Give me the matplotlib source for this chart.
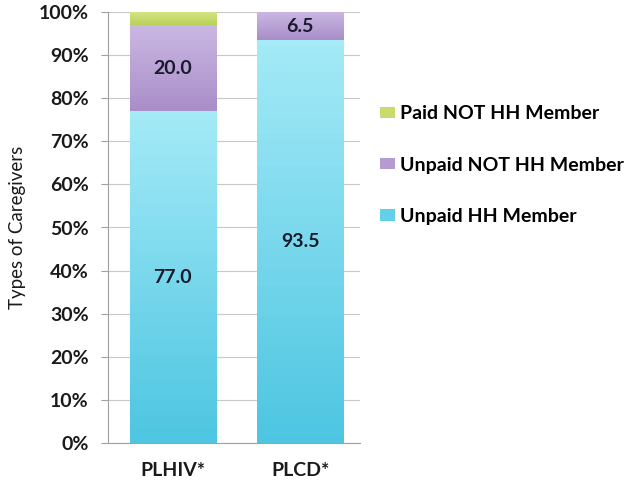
import numpy as np
import matplotlib.pyplot as plt
from matplotlib.colors import LinearSegmentedColormap

groups = ["PLHIV*", "PLCD*"]
unpaid_hh = [77.0, 93.5]
unpaid_not_hh = [20.0, 6.5]
paid_not_hh = [3.0, 0.0]

plt.rcParams['font.family'] = ['Lato', 'DejaVu Sans']
fsz = 14

fig = plt.figure(figsize=(6.34, 4.86), dpi=100)
ax = fig.add_axes([108/634, 1-443/486, 252/634, 431/486])

x = np.arange(len(groups))
w = 0.68

def grad_bars(bars, c_bot, c_top):
    cmap = LinearSegmentedColormap.from_list("g", [c_bot, c_top])
    for b in bars:
        if b.get_height() <= 0:
            continue
        x0, y0 = b.get_x(), b.get_y()
        x1, y1 = x0 + b.get_width(), y0 + b.get_height()
        grad = np.linspace(0, 1, 64).reshape(-1, 1)
        im = ax.imshow(grad, cmap=cmap, origin="lower", aspect="auto",
                       extent=[x0, x1, y0, y1], zorder=2)
        im.set_clip_path(b)

b1 = ax.bar(x, unpaid_hh, w, color="#62d0e8", label="Unpaid HH Member", zorder=2)
b2 = ax.bar(x, unpaid_not_hh, w, bottom=unpaid_hh, color="#b49bd2",
            label="Unpaid NOT HH Member", zorder=2)
b3 = ax.bar(x, paid_not_hh, w, bottom=np.add(unpaid_hh, unpaid_not_hh),
            color="#c8dc6e", label="Paid NOT HH Member", zorder=2)
grad_bars(b1, "#4ec6e2", "#a4eaf7")
grad_bars(b2, "#a98ec8", "#cbb8e4")
grad_bars(b3, "#b9d25a", "#d2e483")

# value labels for the two lower segments
for i in range(len(groups)):
    ax.text(x[i], unpaid_hh[i] / 2, "%.1f" % unpaid_hh[i], ha="center",
            va="center", fontsize=fsz, fontweight="bold", color="#1a1a2e", zorder=3)
    ax.text(x[i], unpaid_hh[i] + unpaid_not_hh[i] / 2, "%.1f" % unpaid_not_hh[i],
            ha="center", va="center", fontsize=fsz, fontweight="bold",
            color="#1a1a2e", zorder=3)

ax.set_xlim(-0.51, 1.47)
ax.set_ylim(0, 100)
ax.set_yticks(np.arange(0, 101, 10))
ax.set_yticklabels(["%d%%" % v for v in range(0, 101, 10)])
ax.set_xticks(x)
ax.set_xticklabels(groups)
ax.grid(axis="y", color="#c8c8c8", lw=0.8, zorder=0)
ax.set_axisbelow(True)
for s in ["top", "right"]:
    ax.spines[s].set_visible(False)
for s in ["left", "bottom"]:
    ax.spines[s].set_color("#a0a0a0")
ax.tick_params(axis="y", length=5, color="#a0a0a0", labelsize=fsz, pad=9)
ax.tick_params(axis="x", length=0, labelsize=fsz, pad=14)
for t in ax.get_xticklabels() + ax.get_yticklabels():
    t.set_fontweight("bold")
    t.set_color("#1a1a1a")
ax.set_ylabel("Types of Caregivers", fontsize=13.5, color="#1a1a1a")
ax.yaxis.set_label_coords(-82/252, 0.5)

h, l = ax.get_legend_handles_labels()
fig.legend(h[::-1], l[::-1], loc="center left", bbox_to_anchor=(370/634, 1-165/486),
           frameon=False, prop={"weight": "bold", "size": fsz}, borderpad=0,
           handlelength=0.8, handleheight=0.55, handletextpad=0.25, labelspacing=1.75)

fig.savefig("out.png", dpi=100)
